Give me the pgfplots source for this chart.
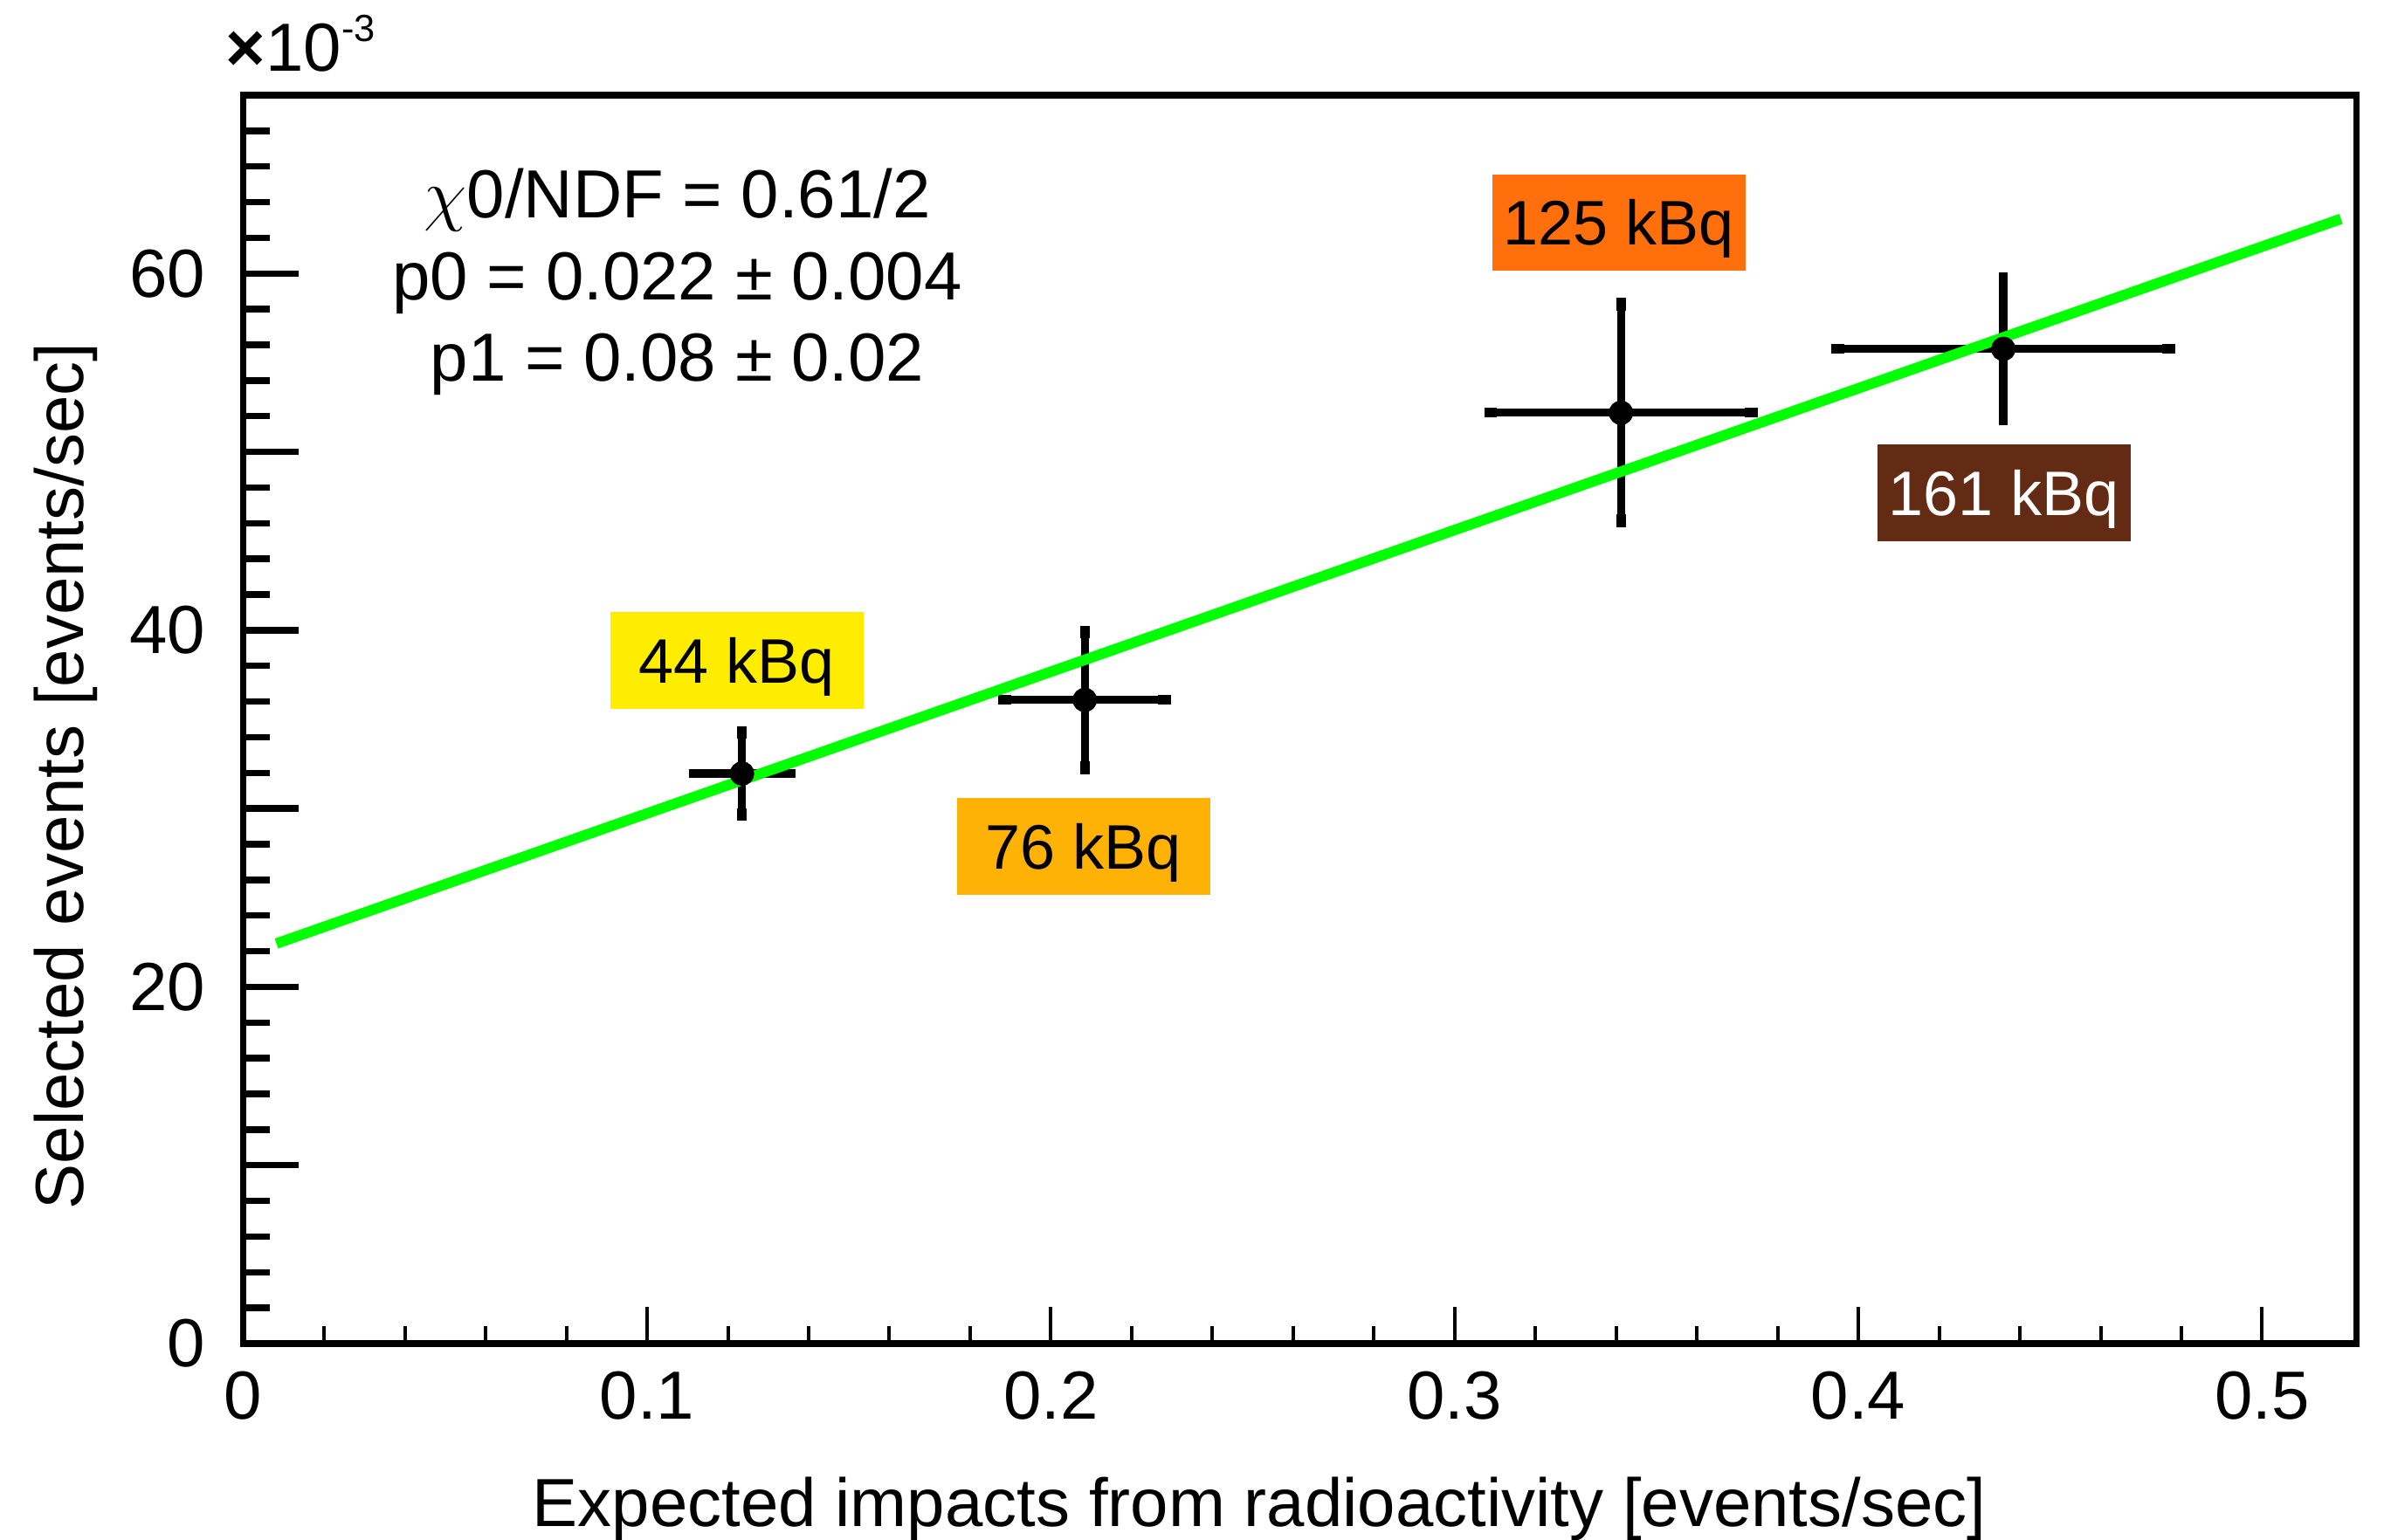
\documentclass[border=0pt]{standalone}
\usepackage{pgfplots}
\pgfplotsset{compat=1.18}
\usepackage{fontspec}
\setmainfont{Liberation Sans}
\definecolor{fitgreen}{RGB}{0,255,0}
\definecolor{boxyellow}{RGB}{255,237,0}
\definecolor{boxamber}{RGB}{254,178,6}
\definecolor{boxorange}{RGB}{255,112,12}
\definecolor{boxbrown}{RGB}{99,42,20}
\newcommand{\lbl}{\fontsize{11.7}{14}\selectfont}
\newcommand{\bxf}{\fontsize{10.8}{13}\selectfont}
\begin{document}
\begin{tikzpicture}
\pgfplotsset{common/.style={width=363pt, height=214.5pt, scale only axis,
  xmin=0, xmax=0.5234, ymin=0, ymax=70, clip=false, tick align=inside}}
% y-axis ticks (longer ticks, as in ROOT)
\begin{axis}[common,
  hide x axis,
  axis line style={draw=none},
  ytick={0,10,20,30,40,50,60,70},
  yticklabels={0,,20,,40,,60,},
  minor y tick num=4,
  ytick pos=left,
  major tick length=9.5pt, minor tick length=4.5pt,
  y tick style={line width=1.1pt, black},
  minor y tick style={line width=1.1pt, black},
  yticklabel style={font=\lbl, xshift=-3pt},
]
\addplot[draw=none] coordinates {(0,0)};
\end{axis}
\begin{axis}[common, name=main,
  axis line style={line width=1.1pt},
  ytick=\empty,
  xtick={0,0.1,0.2,0.3,0.4,0.5},
  xticklabels={0,0.1,0.2,0.3,0.4,0.5},
  minor x tick num=4,
  xtick pos=bottom,
  major tick length=6.3pt, minor tick length=3pt,
  x tick style={line width=0.6pt, black},
  minor x tick style={line width=0.6pt, black},
  xticklabel style={font=\lbl, yshift=-1.2pt},
  every axis x label/.style={at={(axis description cs:0.4808,-0.1463)}, anchor=base, inner sep=0pt, font=\lbl},
  every axis y label/.style={at={(axis description cs:-0.0756,0.8027)}, anchor=base east, rotate=90, inner sep=0pt, font=\lbl},
  xlabel={Expected impacts from radioactivity [events/sec]},
  ylabel={Selected events [events/sec]},
]
\addplot[black, only marks, mark=*, mark size=1.9pt,
  error bars/.cd, x dir=both, x explicit, y dir=both, y explicit,
  error bar style={line width=1.4pt, black},
  error mark options={line width=1.6pt, mark size=1.1pt, black}]
  table[x=x, y=y, x error=ex, y error=ey] {
x       y      ex      ey
0.1235  31.96  0.0116  2.30
0.2084  36.09  0.0198  3.80
0.3412  52.19  0.0323  6.07
0.4359  55.77  0.0410  3.93
};
\addplot[fitgreen, line width=1.8pt] coordinates {(0.0082,22.43) (0.5195,63.06)};

\node[anchor=base, inner sep=0pt, font=\lbl] at (axis cs:0.1075,63.13) {$\chi$0/NDF = 0.61/2};
\node[anchor=base, inner sep=0pt, font=\lbl] at (axis cs:0.1075,58.53) {p0 = 0.022 ± 0.004};
\node[anchor=base, inner sep=0pt, font=\lbl] at (axis cs:0.1075,53.95) {p1 = 0.08 ± 0.02};

\tikzset{kbox/.style={minimum width=43.5pt, minimum height=16.6pt, inner sep=0pt, text height=7.7pt, text depth=0pt, font=\bxf}}
\node[kbox, fill=boxyellow] at (axis cs:0.1222,38.30) {44 kBq};
\node[kbox, fill=boxamber] at (axis cs:0.2081,27.88) {76 kBq};
\node[kbox, fill=boxorange] at (axis cs:0.3407,62.85) {125 kBq};
\node[kbox, fill=boxbrown, text=white] at (axis cs:0.4360,47.70) {161 kBq};

\node[anchor=base west, inner sep=0pt, font=\lbl] at (axis description cs:-0.0087,1.0189)
  {\textbf{×}10\raisebox{5.2pt}{\fontsize{6.5}{7}\selectfont -3}};
\end{axis}
\pgfresetboundingbox
\path ([shift={(-41.8pt,-33.75pt)}]main.south west) rectangle ([shift={(4.7pt,16.35pt)}]main.north east);
\end{tikzpicture}
\end{document}
